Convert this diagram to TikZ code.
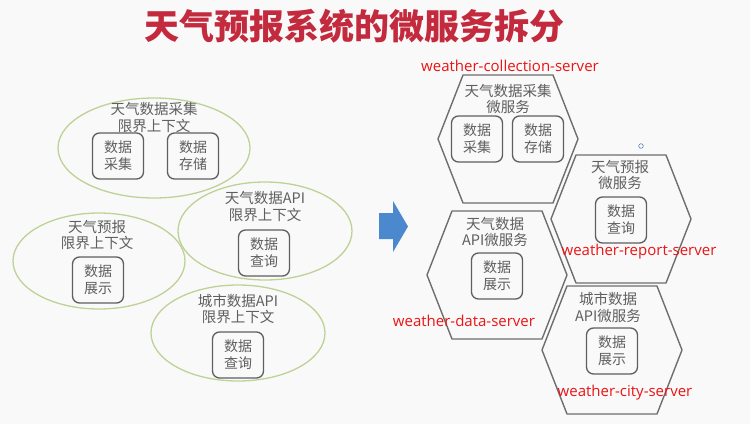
\documentclass[tikz,border=0pt]{standalone}
\usepackage{fontspec}
\setmainfont{Liberation Sans}
\newfontfamily\cjk{Noto Sans CJK SC}
\newfontfamily\srvfont{Open Sans}
\usetikzlibrary{positioning}
\definecolor{wxred}{RGB}{196,42,62}
\definecolor{wxlabel}{RGB}{235,20,20}
\definecolor{wxgreen}{RGB}{190,210,150}
\definecolor{wxgray}{RGB}{95,95,95}
\definecolor{wxline}{RGB}{110,110,110}
\definecolor{wxblue}{RGB}{76,136,206}
\definecolor{wxbg}{RGB}{249,249,249}

\begin{document}
\begin{tikzpicture}[x=1pt, y=-1pt,
  ctx/.style={wxgreen, line width=1.3pt},
  ctxtext/.style={wxgray, font=\cjk\fontsize{14.5}{16.5}\selectfont, align=center, inner sep=0pt},
  unitbox/.style={draw=wxgray, line width=1.3pt, rounded corners=7pt, minimum width=51pt,
                  minimum height=46pt, inner sep=0pt, align=center, wxgray,
                  font=\cjk\fontsize{14}{17}\selectfont},
  hexline/.style={draw=wxline, line width=1.4pt, line join=round},
  srvlabel/.style={wxlabel, font=\srvfont\fontsize{15}{15}\selectfont, inner sep=0pt}]

% === Background ===
\fill[wxbg] (0,0) rectangle (750,424);
\useasboundingbox (0,0) rectangle (750,424);

% === Title ===
\node[font=\cjk\bfseries\fontsize{35}{36}\selectfont, wxred] (title) at (354,26) {天气预报系统的微服务拆分};

% === Bounded contexts (left) ===
\draw[ctx] (154,148) ellipse (96 and 50);
\node[ctxtext] (c1t) at (154,117.5) {天气数据采集\\限界上下文};
\node[unitbox] (c1a) at (118,156) {数据\\采集};
\node[unitbox] (c1b) at (193,156) {数据\\存储};

\draw[ctx] (99,261) ellipse (86 and 48);
\node[ctxtext] (c3t) at (97,235) {天气预报\\限界上下文};
\node[unitbox] (c3a) at (98,280) {数据\\展示};

\draw[ctx] (265,231) ellipse (87 and 49);
\node[ctxtext] (c2t) at (265,206.5) {天气数据API\\限界上下文};
\node[unitbox] (c2a) at (264,253) {数据\\查询};

\draw[ctx] (238,333) ellipse (87 and 48);
\node[ctxtext] (c4t) at (238,309) {城市数据API\\限界上下文};
\node[unitbox] (c4a) at (238,355) {数据\\查询};

% === Block arrow ===
\fill[wxblue] (379,213) -- (393,213) -- (393,201) -- (408,226.5) -- (393,252)
  -- (393,239) -- (379,239) -- cycle;

% === Microservices (right) ===
\foreach \cx/\cy/\nm in {508/139/h1, 621/219/h2, 497/275/h3, 612/350/h4} {
  \coordinate (\nm) at (\cx,\cy);
  \draw[hexline] (\cx-70,\cy) -- (\cx-45,\cy-64) -- (\cx+45,\cy-64) -- (\cx+70,\cy)
    -- (\cx+45,\cy+64) -- (\cx-45,\cy+64) -- cycle;
}

\node[ctxtext] (h1t) at (508,99) {天气数据采集\\微服务};
\node[unitbox] (h1a) at (477,139) {数据\\采集};
\node[unitbox] (h1b) at (538,139) {数据\\存储};

\node[ctxtext] (h2t) at (620,175) {天气预报\\微服务};
\node[unitbox] (h2a) at (621,220) {数据\\查询};

\node[ctxtext] (h3t) at (495,232) {天气数据\\API微服务};
\node[unitbox] (h3a) at (497,276) {数据\\展示};

\node[ctxtext] (h4t) at (608,307.5) {城市数据\\API微服务};
\node[unitbox] (h4a) at (612,351) {数据\\展示};

% small marker
\draw[wxblue!70!gray, line width=0.6pt] (641,146) circle (2.3);

% === Server names ===
\node[srvlabel] (s1) at (510,66) {weather-collection-server};
\node[srvlabel] (s2) at (639,252) {weather-report-server};
\node[srvlabel] (s3) at (464,321) {weather-data-server};
\node[srvlabel] (s4) at (625,393) {weather-city-server};

\end{tikzpicture}
\end{document}
